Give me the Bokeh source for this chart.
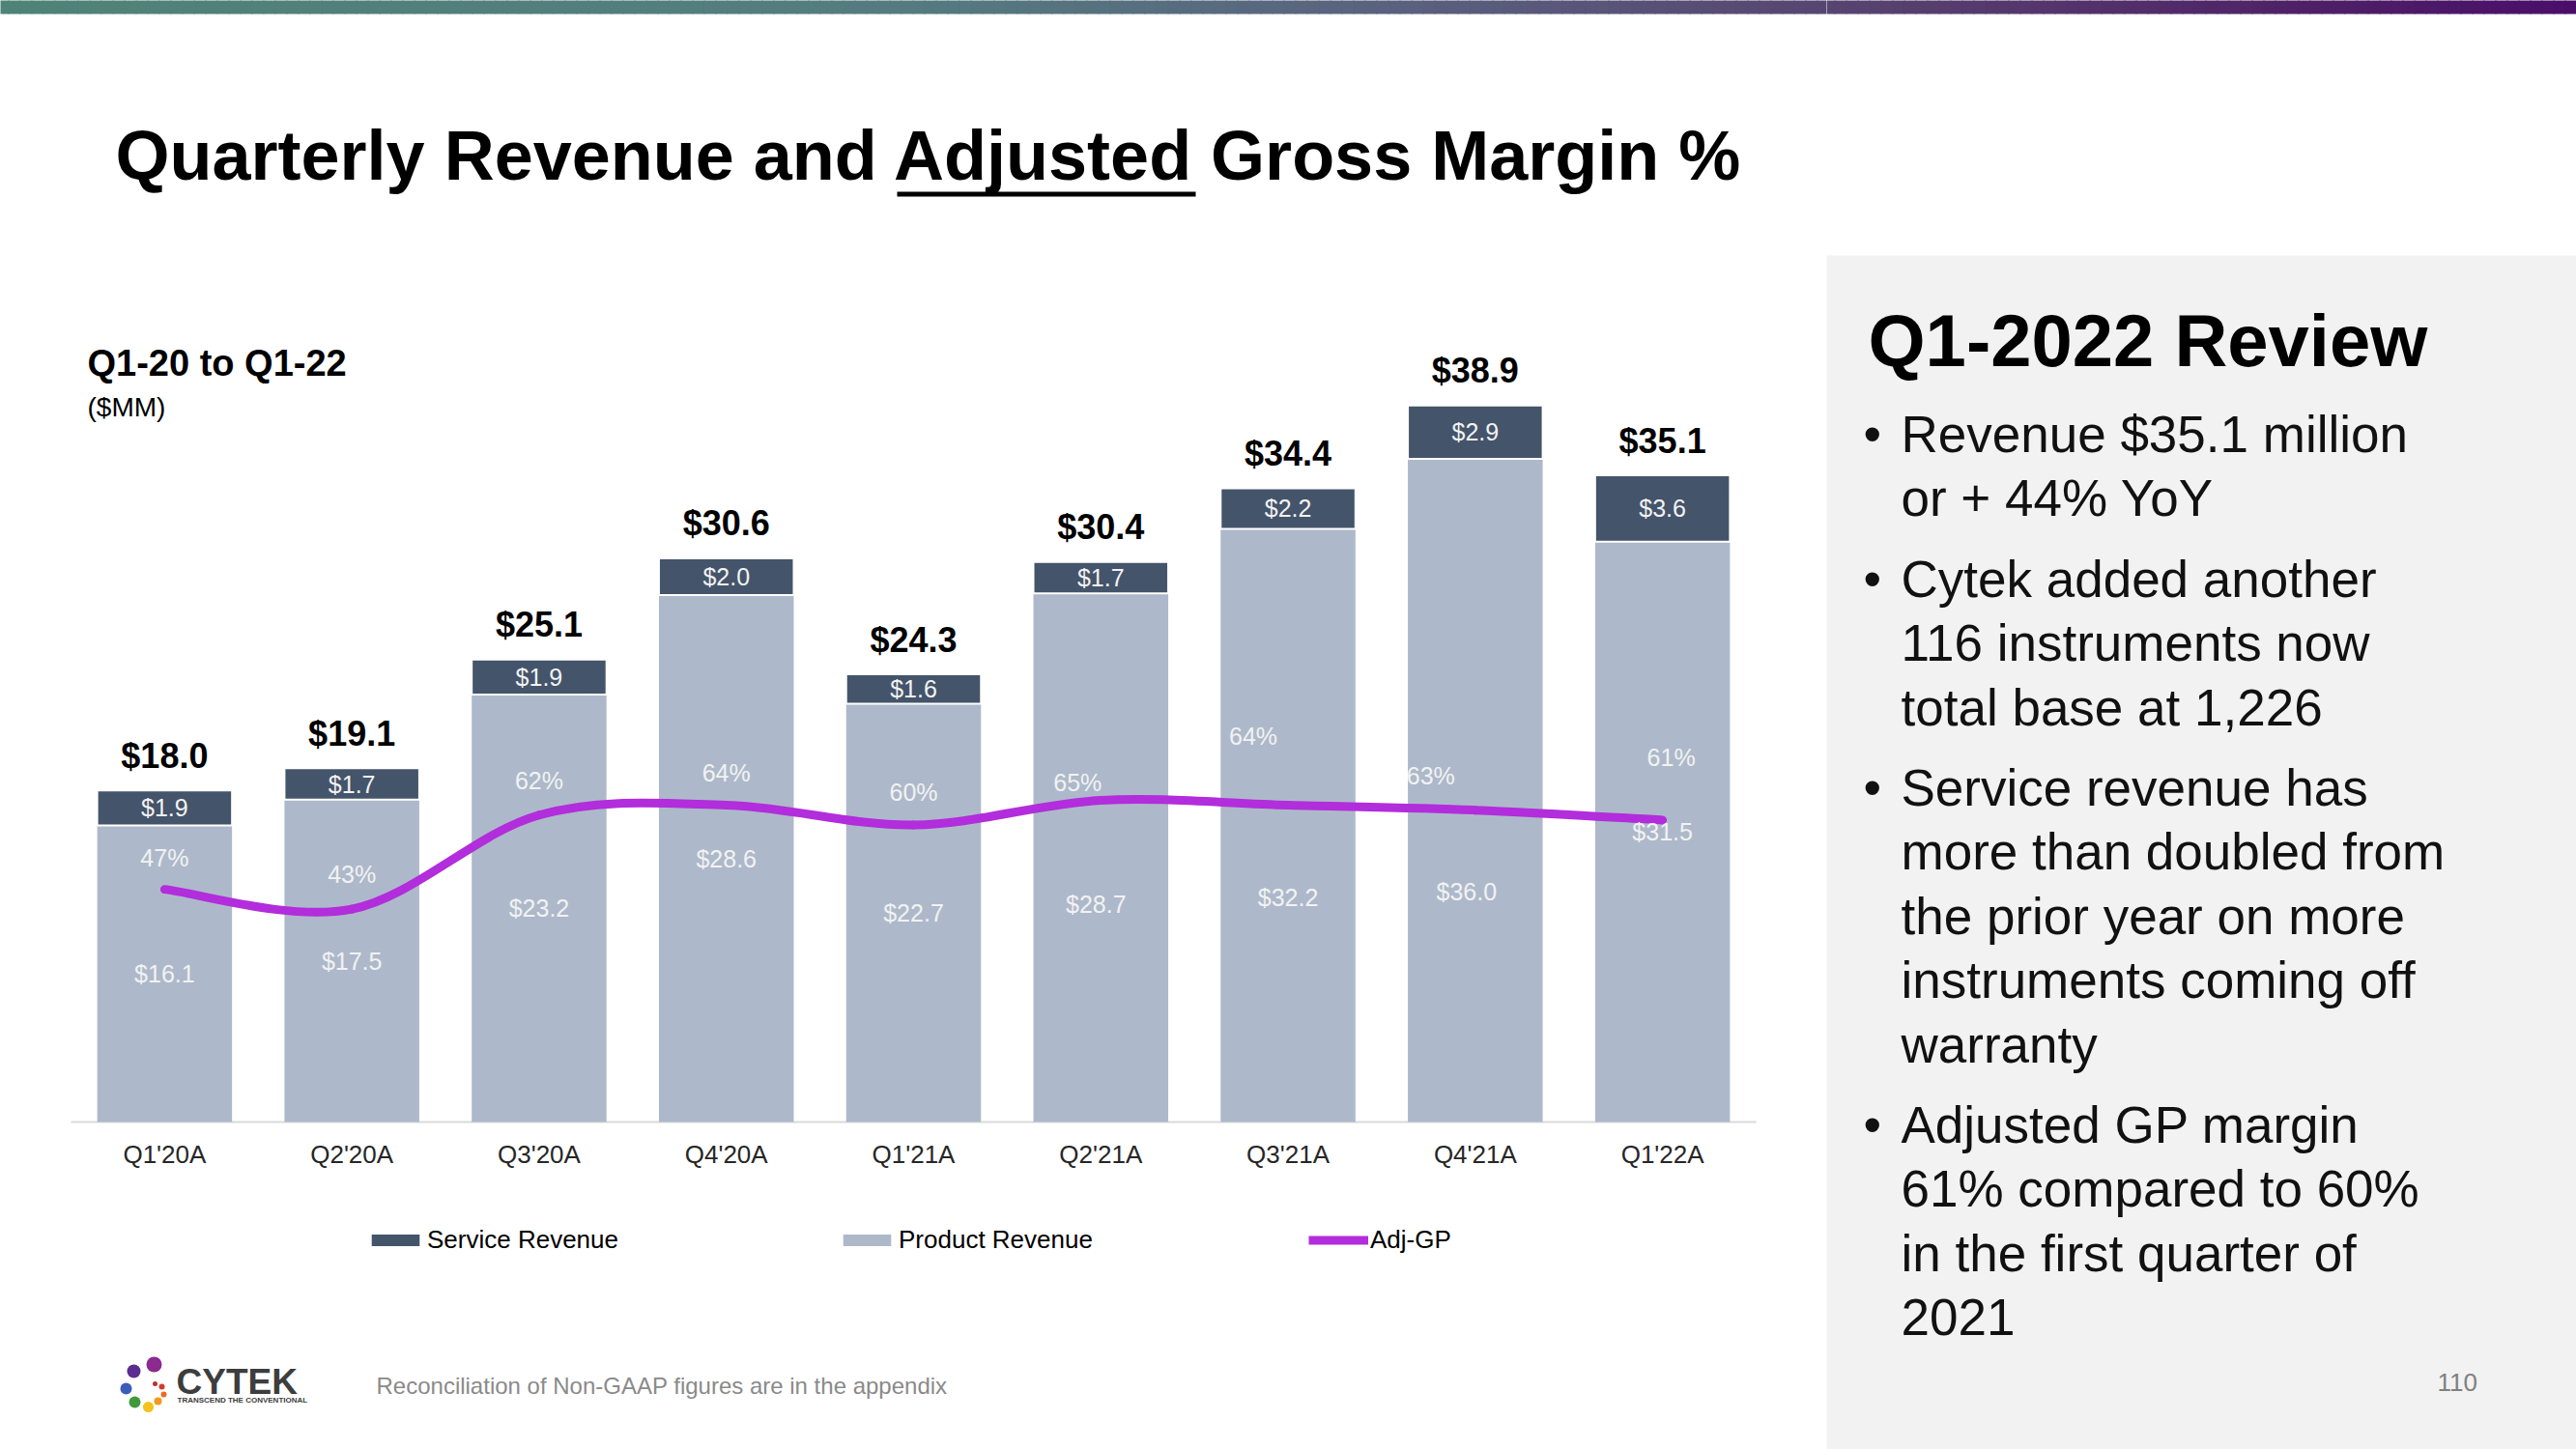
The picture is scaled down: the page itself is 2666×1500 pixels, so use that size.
from bokeh.plotting import figure
from bokeh.models import Range1d, FixedTicker, Legend, LegendItem, ColumnDataSource
from bokeh.layouts import row, column
from bokeh.embed import file_html
from bokeh.resources import INLINE
from bokeh.core.properties import value

# ---------------- data ----------------
QUARTERS = ["Q1'20A", "Q2'20A", "Q3'20A", "Q4'20A", "Q1'21A", "Q2'21A", "Q3'21A", "Q4'21A", "Q1'22A"]
PRODUCT_REVENUE = [16.1, 17.5, 23.2, 28.6, 22.7, 28.7, 32.2, 36.0, 31.5]
SERVICE_REVENUE = [1.9, 1.7, 1.9, 2.0, 1.6, 1.7, 2.2, 2.9, 3.6]
TOTAL_REVENUE = [18.0, 19.1, 25.1, 30.6, 24.3, 30.4, 34.4, 38.9, 35.1]
ADJ_GP_PCT = [47, 43, 62, 64, 60, 65, 64, 63, 61]
SERIES_NAMES = ["Service Revenue", "Product Revenue", "Adj-GP"]

TITLE = "Quarterly Revenue and Adjusted Gross Margin %"
SUBTITLE = "Q1-20 to Q1-22"
UNITS = "($MM)"
REVIEW_TITLE = "Q1-2022 Review"
REVIEW_BULLETS = [
    ["Revenue $35.1 million", "or + 44% YoY"],
    ["Cytek added another", "116 instruments now", "total base at 1,226"],
    ["Service revenue has", "more than doubled from", "the prior year on more",
     "instruments coming off", "warranty"],
    ["Adjusted GP margin", "61% compared to 60%", "in the first quarter of", "2021"],
]
FOOTNOTE = "Reconciliation of Non-GAAP figures are in the appendix"
PAGE_NO = "110"

# ---------------- label placement nudges (layout only) ----------------
PRODUCT_LABEL_DROP_PX = [0, 0, 0, 0, 0, 48, 75, 105, 0]
PRODUCT_LABEL_DX_PX = [0, 0, 0, 0, 0, -5, 0, -9, 0]
PCT_LABEL_RISE = [6.3, 7.0, 7.0, 6.6, 6.6, 3.6, 13.9, 7.0, 12.6]
PCT_LABEL_DX_PX = [0, 0, 0, 0, 0, -24, -36, -46, 9]

FONT = "Liberation Sans"
C_PRODUCT = "#adb9ca"
C_SERVICE = "#44546a"
C_LINE = "#b22ddb"
PAGE_W, PAGE_H = 2666, 1500
SPLIT_X = 1890


def blank(w, h, x0, x1, y0, y1):
    p = figure(width=w, height=h, x_range=Range1d(x0, x1), y_range=Range1d(y0, y1),
               x_axis_type=None, y_axis_type=None, output_backend="svg",
               toolbar_location=None, min_border=0, title=None)
    p.outline_line_color = None
    p.background_fill_color = "white"
    p.border_fill_color = "white"
    return p


GRAD_STOPS = [(0.0, (79, 131, 119)), (0.35, (84, 124, 128)), (0.55, (90, 96, 126)),
              (0.75, (86, 62, 110)), (0.9, (78, 32, 102)), (1.0, (74, 14, 106))]


def grad_color(t):
    t = min(max(t, 0.0), 1.0)
    for j in range(len(GRAD_STOPS) - 1):
        a, ca = GRAD_STOPS[j]
        b, cb = GRAD_STOPS[j + 1]
        if a <= t <= b:
            f = (t - a) / (b - a)
            return "#%02x%02x%02x" % tuple(int(round(ca[m] + f * (cb[m] - ca[m]))) for m in range(3))
    return "#4a0e6a"


def draw_strip(p, xa, xb, step=12):
    # drawn a few pixels past the figure's edges (clipped) so that no seam shows
    ls, rs, cs = [], [], []
    x = xa - 4
    while x < xb + 4:
        ls.append(x)
        rs.append(x + step + 1)
        cs.append(grad_color((x + step / 2) / PAGE_W))
        x += step
    p.quad(left=ls, right=rs, top=-2, bottom=14, color=cs, line_color=None)


# ---------------- header (strip + title) ----------------
header = blank(SPLIT_X, 300, 0, SPLIT_X, 300, 0)
draw_strip(header, 0, SPLIT_X)
header.text(x=[119], y=[160], text=[TITLE], text_font=value(FONT), text_font_size="72px",
            text_font_style="bold", text_color="#000000", text_baseline="middle", text_align="left")
header.quad(left=[928], right=[1237], top=[198], bottom=[203], color="#000000", line_color=None)

# ---------------- chart ----------------
n = len(QUARTERS)
idx = list(range(n))
FRAME_W = 1744           # width of the category area
SIDE = 73                # white space left/right of the category area
PX_PER_CAT = FRAME_W / n
Y_MAX = 43.05
PX_PER_UNIT = 821 / Y_MAX
Y_MIN = -2 / PX_PER_UNIT
PCT_PER_UNIT = 160.2 / Y_MAX

chart = figure(width=SPLIT_X, height=940,
               x_range=Range1d(-0.5 - SIDE / PX_PER_CAT, n - 0.5 + SIDE / PX_PER_CAT),
               y_range=Range1d(Y_MIN, Y_MAX),
               y_axis_type=None, output_backend="svg", toolbar_location=None, title=None,
               min_border_left=0, min_border_right=0, min_border_top=40, min_border_bottom=77)
chart.extra_y_ranges = {"pct": Range1d(Y_MIN * PCT_PER_UNIT, Y_MAX * PCT_PER_UNIT)}
chart.outline_line_color = None
chart.grid.visible = False
chart.background_fill_color = "white"
chart.border_fill_color = "white"

stack_top = [p + s for p, s in zip(PRODUCT_REVENUE, SERVICE_REVENUE)]
src = ColumnDataSource(dict(
    x=idx, product=PRODUCT_REVENUE, service=SERVICE_REVENUE, top=stack_top, pct=ADJ_GP_PCT,
    total_lbl=["$%.1f" % v for v in TOTAL_REVENUE],
    svc_lbl=["$%.1f" % v for v in SERVICE_REVENUE],
    prd_lbl=["$%.1f" % v for v in PRODUCT_REVENUE],
    pct_lbl=["%d%%" % v for v in ADJ_GP_PCT],
    total_y=[t + 36 / PX_PER_UNIT for t in stack_top],
    svc_y=[p + s / 2 for p, s in zip(PRODUCT_REVENUE, SERVICE_REVENUE)],
    prd_y=[p / 2 - d / PX_PER_UNIT for p, d in zip(PRODUCT_REVENUE, PRODUCT_LABEL_DROP_PX)],
    prd_x=[i + d / PX_PER_CAT for i, d in zip(idx, PRODUCT_LABEL_DX_PX)],
    pct_y=[v + r for v, r in zip(ADJ_GP_PCT, PCT_LABEL_RISE)],
    pct_x=[i + d / PX_PER_CAT for i, d in zip(idx, PCT_LABEL_DX_PX)],
))

# category baseline (axis line spans only the category area)
chart.segment(x0=[-0.5], x1=[n - 0.5], y0=[0], y1=[0], line_color="#d9d9d9", line_width=2)

prod_r = chart.vbar(x="x", top="product", bottom=0, width=0.72, source=src,
                    fill_color=C_PRODUCT, line_color=None)
serv_r = chart.vbar(x="x", top="top", bottom="product", width=0.72, source=src,
                    fill_color=C_SERVICE, line_color="white", line_width=2)

# smoothed Adj-GP line (Catmull-Rom -> Bezier segments through the data points)
bz = dict(x0=[], y0=[], x1=[], y1=[], cx0=[], cy0=[], cx1=[], cy1=[])
for i in range(n - 1):
    a = max(i - 1, 0)
    d = min(i + 2, n - 1)
    bz["x0"].append(idx[i]); bz["y0"].append(ADJ_GP_PCT[i])
    bz["x1"].append(idx[i + 1]); bz["y1"].append(ADJ_GP_PCT[i + 1])
    bz["cx0"].append(idx[i] + (idx[i + 1] - idx[a]) / 6)
    bz["cy0"].append(ADJ_GP_PCT[i] + (ADJ_GP_PCT[i + 1] - ADJ_GP_PCT[a]) / 6)
    bz["cx1"].append(idx[i + 1] - (idx[d] - idx[i]) / 6)
    bz["cy1"].append(ADJ_GP_PCT[i + 1] - (ADJ_GP_PCT[d] - ADJ_GP_PCT[i]) / 6)
chart.bezier(x0="x0", y0="y0", x1="x1", y1="y1", cx0="cx0", cy0="cy0", cx1="cx1", cy1="cy1",
             source=ColumnDataSource(bz), line_color=C_LINE, line_width=9,
             line_cap="round", y_range_name="pct")

inner = dict(text_font=value(FONT), text_font_size="25px", text_color="#f2f2f2",
             text_align="center", text_baseline="middle")
chart.text(x="x", y="svc_y", text="svc_lbl", source=src, **inner)
chart.text(x="prd_x", y="prd_y", text="prd_lbl", source=src, **inner)
chart.text(x="pct_x", y="pct_y", text="pct_lbl", source=src, y_range_name="pct", **inner)
chart.text(x="x", y="total_y", text="total_lbl", source=src, text_font=value(FONT),
           text_font_size="36px", text_font_style="bold", text_color="#000000",
           text_align="center", text_baseline="middle")

# subtitle inside the frame (positions converted from pixels)
sub_x = -0.5 + 17 / PX_PER_CAT
chart.text(x=[sub_x], y=[(1161 - 375) / PX_PER_UNIT], text=[SUBTITLE], text_font=value(FONT),
           text_font_size="38px", text_font_style="bold", text_color="#000000",
           text_align="left", text_baseline="middle")
chart.text(x=[sub_x], y=[(1161 - 421) / PX_PER_UNIT], text=[UNITS], text_font=value(FONT),
           text_font_size="28px", text_color="#000000", text_align="left", text_baseline="middle")

chart.xaxis.ticker = FixedTicker(ticks=idx)
chart.xaxis.major_label_overrides = {i: q for i, q in enumerate(QUARTERS)}
chart.xaxis.major_tick_line_color = None
chart.xaxis.minor_tick_line_color = None
chart.xaxis.axis_line_color = None
chart.xaxis.major_label_standoff = 10
chart.xaxis.major_label_text_font = FONT
chart.xaxis.major_label_text_font_size = "26px"
chart.xaxis.major_label_text_color = "#262626"

# ---------------- footer (legend, logo, footnote) ----------------
footer = blank(SPLIT_X, 260, 0, SPLIT_X, 1500, 1240)
# legend proxies (hidden renderers over the same data, only used for legend swatches)
leg_s = footer.vbar(x="x", top="top", bottom="product", width=0.72, source=src,
                    fill_color=C_SERVICE, line_color=None, visible=False)
leg_p = footer.vbar(x="x", top="product", bottom=0, width=0.72, source=src,
                    fill_color=C_PRODUCT, line_color=None, visible=False)
leg_l = footer.line(x="x", y="pct", source=src, line_color=C_LINE, line_width=9, visible=False)
legend = Legend(items=[LegendItem(label=SERIES_NAMES[0], renderers=[leg_s], index=0),
                       LegendItem(label=SERIES_NAMES[1], renderers=[leg_p], index=0),
                       LegendItem(label=SERIES_NAMES[2], renderers=[leg_l], index=0)],
                orientation="horizontal", location=(378, 201), spacing=219, label_width=205,
                glyph_width=62, glyph_height=15, label_standoff=2, click_policy="none",
                label_text_font=FONT, label_text_font_size="26px", label_text_color="#000000",
                border_line_color=None, background_fill_alpha=0, padding=0, margin=0,
                inactive_fill_alpha=0)
footer.add_layout(legend)

logo_x = [138, 159, 130, 139, 153, 163, 169, 167, 160]
logo_y = [1419, 1412, 1437, 1451, 1456, 1450, 1443, 1435, 1432]
logo_s = [14, 16, 12, 12, 11, 8, 6, 6, 5]
logo_c = ["#5b2d91", "#8b2a8f", "#3b5cb8", "#3f9a3b", "#f3c21b", "#f39a1c", "#ea6b25", "#d93a2b", "#b8322e"]
footer.scatter(x=logo_x, y=logo_y, size=logo_s, color=logo_c, line_color=None)
footer.text(x=[182], y=[1430], text=["CYTEK"], text_font=value(FONT), text_font_size="37px",
            text_font_style="bold", text_color="#3d3d3d", text_baseline="middle")
footer.text(x=[183], y=[1449], text=["TRANSCEND THE CONVENTIONAL"], text_font=value(FONT),
            text_font_size="8px", text_font_style="bold", text_color="#3d3d3d", text_baseline="middle")
footer.text(x=[389], y=[1434], text=[FOOTNOTE], text_font=value(FONT), text_font_size="24px",
            text_color="#8a8a8a", text_baseline="middle")

# ---------------- right review panel ----------------
panel = blank(PAGE_W - SPLIT_X, PAGE_H, SPLIT_X, PAGE_W, PAGE_H, 0)
draw_strip(panel, SPLIT_X, PAGE_W)
panel.quad(left=[SPLIT_X - 2], right=[PAGE_W + 2], top=[264], bottom=[PAGE_H + 2], color="#f2f2f2", line_color=None)
panel.text(x=[1933], y=[352], text=[REVIEW_TITLE], text_font=value(FONT), text_font_size="76px",
           text_font_style="bold", text_color="#000000", text_baseline="middle")
lines, ly, bullets_y = [], [], []
k = 0
for g, grp in enumerate(REVIEW_BULLETS):
    for j, t in enumerate(grp):
        y = 449 + k * 66.4 + g * 17
        lines.append(t)
        ly.append(y)
        if j == 0:
            bullets_y.append(y)
        k += 1
panel.text(x=[1967] * len(lines), y=ly, text=lines, text_font=value(FONT), text_font_size="53px",
           text_color="#111111", text_baseline="middle")
panel.text(x=[1928] * len(bullets_y), y=bullets_y, text=["\u2022"] * len(bullets_y), text_font=value(FONT),
           text_font_size="53px", text_color="#111111", text_baseline="middle")
panel.text(x=[2522], y=[1430], text=[PAGE_NO], text_font=value(FONT), text_font_size="26px",
           text_color="#808080", text_baseline="middle")

layout = row(column(header, chart, footer), panel)
open("out.html", "w").write(file_html(layout, INLINE))
